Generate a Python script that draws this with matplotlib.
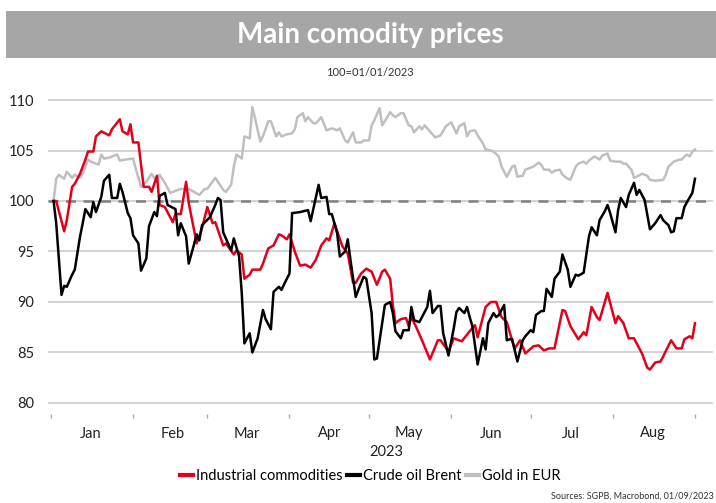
import matplotlib as mpl
mpl.use('Agg')
import matplotlib.pyplot as plt
import matplotlib.dates as mdates
from matplotlib.patches import Rectangle
import numpy as np
import pandas as pd

plt.rcParams['font.family'] = ['Lato', 'DejaVu Sans']

# days since 1 Jan 2023, index 100 = 01/01/2023
ind_days = [1, 2, 5, 6, 8, 9, 11, 13, 14, 16, 17, 19, 22, 23, 26, 27, 29, 30, 31, 33,
            35, 37, 38, 40, 41, 43, 46, 47, 49, 51, 52, 55, 56, 57, 59, 61, 62, 65, 66, 69,
            70, 72, 73, 75, 76, 79, 80, 82, 84, 86, 87, 89, 90, 92, 94, 96, 98, 100, 102, 104,
            105, 107, 108, 110, 112, 114, 115, 117, 119, 121, 123, 125, 126, 128, 129, 130, 132, 134, 135, 136,
            138, 140, 143, 146, 147, 150, 152, 155, 158, 160, 161, 164, 166, 168, 170, 172, 174, 175, 177, 179,
            182, 184, 186, 188, 190, 192, 193, 194, 196, 199, 201, 202, 204, 206, 207, 210, 211, 213, 214, 216,
            218, 220, 223, 225, 226, 228, 230, 231, 234, 236, 238, 239, 241, 242, 243]
ind_vals = [100.0, 100.0, 97.0, 98.1, 101.4, 101.7, 102.7, 104.1, 104.9, 104.9, 106.4, 106.9, 106.5, 107.1, 108.1, 106.9, 106.6, 107.6, 105.8, 105.8,
            101.4, 101.4, 100.9, 102.5, 99.6, 99.4, 97.9, 98.7, 98.7, 101.9, 99.8, 95.8, 96.5, 97.3, 99.4, 97.8, 97.9, 95.6, 95.8, 94.7,
            95.1, 94.7, 92.3, 92.7, 93.2, 93.2, 93.8, 95.3, 95.6, 96.7, 96.6, 96.2, 96.7, 95.0, 93.6, 93.7, 93.4, 94.2, 95.6, 96.3,
            96.1, 97.8, 97.0, 95.5, 94.8, 91.9, 91.9, 92.8, 93.3, 93.0, 91.7, 93.0, 93.2, 92.3, 89.7, 87.9, 88.3, 88.4, 87.6, 88.5,
            87.4, 86.2, 84.3, 86.2, 86.2, 85.1, 86.4, 86.1, 87.1, 87.7, 86.5, 89.5, 90.0, 90.0, 88.5, 88.0, 86.2, 85.4, 86.2, 84.9,
            85.6, 85.7, 85.2, 85.4, 85.4, 87.9, 89.2, 89.1, 87.6, 86.3, 87.0, 86.7, 89.5, 88.5, 88.2, 90.9, 89.9, 87.9, 88.6, 87.9,
            86.4, 86.4, 84.9, 83.5, 83.3, 84.0, 84.1, 84.6, 86.2, 85.4, 85.4, 86.3, 86.6, 86.4, 87.9]

oil_days = [1, 2, 4, 5, 6, 8, 9, 11, 12, 13, 15, 16, 17, 19, 20, 22, 23, 25, 26, 27,
            29, 30, 31, 33, 34, 36, 37, 39, 40, 41, 43, 44, 47, 48, 49, 51, 52, 54, 55, 56,
            57, 60, 62, 63, 64, 65, 66, 68, 69, 71, 72, 73, 75, 76, 78, 80, 81, 83, 84, 86,
            87, 89, 90, 91, 94, 97, 98, 101, 102, 104, 105, 106, 108, 109, 111, 112, 113, 115, 116, 118,
            119, 121, 122, 123, 125, 126, 128, 129, 130, 132, 133, 135, 136, 137, 139, 140, 142, 143, 144, 146,
            147, 148, 150, 152, 153, 154, 156, 157, 158, 159, 161, 163, 164, 165, 167, 168, 169, 171, 172, 173,
            174, 176, 178, 179, 181, 182, 183, 185, 186, 187, 189, 190, 192, 193, 195, 196, 198, 199, 201, 202,
            203, 204, 206, 207, 209, 210, 211, 213, 214, 215, 217, 218, 220, 221, 222, 224, 226, 228, 230, 231,
            233, 234, 235, 236, 238, 239, 240, 242, 243]
oil_vals = [100.0, 97.8, 90.7, 91.6, 91.5, 92.7, 93.2, 96.5, 97.8, 99.2, 98.4, 99.9, 98.9, 100.4, 102.0, 102.6, 100.3, 100.3, 101.7, 100.9,
            98.8, 98.3, 96.6, 95.8, 93.1, 94.3, 97.5, 98.9, 98.5, 100.5, 100.8, 99.6, 99.2, 96.6, 97.8, 96.5, 93.8, 95.7, 96.7, 96.1,
            97.6, 98.4, 99.6, 100.3, 100.1, 96.9, 96.3, 95.1, 96.3, 94.5, 90.9, 85.9, 86.9, 85.0, 86.4, 89.2, 88.3, 87.3, 91.0, 91.5,
            91.2, 92.3, 92.8, 98.8, 98.9, 99.1, 98.0, 101.6, 100.3, 100.4, 98.7, 98.7, 96.8, 94.5, 95.0, 96.2, 94.2, 90.5, 91.2, 92.5,
            92.3, 88.9, 84.3, 84.4, 87.9, 89.7, 90.0, 88.9, 87.1, 86.4, 87.2, 87.2, 89.5, 88.2, 88.0, 88.5, 89.5, 91.1, 88.9, 89.6,
            89.6, 86.9, 84.7, 87.4, 89.0, 89.4, 88.9, 89.5, 88.5, 87.6, 83.8, 86.4, 85.3, 87.9, 88.9, 88.5, 88.7, 89.7, 86.2, 86.3,
            86.3, 84.1, 86.2, 86.6, 87.2, 87.0, 88.7, 89.1, 89.1, 91.3, 90.5, 92.3, 93.0, 94.7, 93.2, 91.5, 92.7, 92.6, 92.9, 94.7,
            96.5, 97.4, 96.6, 98.1, 99.0, 99.6, 98.8, 96.9, 99.1, 100.3, 99.4, 100.6, 101.8, 100.6, 101.1, 100.1, 97.2, 97.8, 98.6, 98.1,
            97.6, 96.9, 97.0, 98.3, 98.3, 99.4, 99.9, 100.8, 102.2]

gold_days = [1, 2, 3, 5, 6, 8, 9, 11, 12, 14, 15, 18, 19, 20, 22, 25, 26, 28, 31, 32,
             34, 36, 38, 40, 41, 43, 45, 49, 52, 54, 56, 58, 59, 62, 65, 66, 68, 69, 70, 72,
             73, 75, 76, 77, 79, 80, 82, 83, 85, 86, 87, 89, 91, 92, 93, 95, 96, 97, 99, 100,
             102, 104, 106, 108, 109, 111, 112, 114, 115, 117, 118, 120, 121, 122, 124, 125, 126, 128, 129, 130,
             132, 133, 135, 136, 137, 139, 140, 141, 143, 145, 146, 147, 149, 151, 153, 154, 156, 157, 158, 160,
             161, 163, 164, 166, 167, 169, 170, 172, 174, 175, 176, 178, 179, 181, 182, 184, 185, 186, 188, 189,
             190, 192, 193, 195, 196, 198, 199, 201, 202, 203, 205, 206, 207, 208, 210, 211, 213, 215, 216, 217,
             219, 220, 221, 223, 225, 226, 228, 231, 232, 233, 235, 237, 238, 239, 240, 241, 242, 243]
gold_vals = [100.0, 102.2, 102.6, 102.2, 102.9, 102.3, 102.6, 102.3, 102.7, 104.1, 103.9, 103.6, 104.6, 104.2, 104.3, 104.6, 104.0, 104.1, 104.2, 103.2,
             101.4, 101.9, 102.7, 101.9, 102.6, 101.8, 100.8, 101.2, 101.2, 100.9, 100.6, 101.2, 101.2, 102.3, 101.1, 100.9, 101.6, 103.4, 104.6, 104.2,
             106.4, 106.2, 109.3, 108.2, 105.9, 106.4, 107.9, 107.9, 106.4, 106.8, 106.4, 106.6, 106.7, 107.1, 108.3, 108.7, 107.9, 108.3, 107.7, 107.7,
             108.3, 107.0, 107.2, 107.0, 107.2, 106.0, 105.8, 106.8, 105.8, 105.8, 106.0, 106.0, 107.5, 108.0, 109.2, 107.5, 107.9, 108.8, 108.5, 108.3,
             108.7, 108.7, 107.5, 107.4, 106.8, 107.4, 107.1, 107.5, 106.9, 106.3, 106.4, 106.5, 107.4, 107.8, 106.7, 107.4, 107.7, 106.4, 106.9, 107.0,
             106.5, 105.7, 105.1, 105.0, 104.9, 104.4, 103.4, 102.4, 103.4, 103.5, 102.4, 102.5, 103.1, 103.3, 103.4, 103.8, 103.6, 103.1, 103.1, 102.8,
             103.0, 103.1, 102.6, 102.2, 102.1, 103.4, 103.7, 103.9, 103.7, 104.0, 104.4, 104.3, 104.1, 104.5, 104.7, 104.0, 103.9, 103.9, 103.7, 103.7,
             103.1, 102.3, 102.4, 102.7, 102.5, 102.1, 102.0, 102.1, 102.6, 103.4, 103.9, 104.1, 104.1, 104.4, 104.6, 104.4, 104.9, 105.1]

series_names = ['Industrial commodities', 'Crude oil Brent', 'Gold in EUR']
series_colors = ['#e2001a', '#000000', '#bfbfbf']
y_ticks = [80, 85, 90, 95, 100, 105, 110]

start = pd.Timestamp('2023-01-01')
def to_dates(days):
    return start + pd.to_timedelta(days, unit='D')

fig = plt.figure(figsize=(7.16, 5.03), dpi=100)
ax = fig.add_axes([48/716, (503-414)/503, (713-48)/716, (414-95)/503])

# title banner
fig.patches.append(Rectangle((6/716, 1-58/503), 1, 47/503, transform=fig.transFigure,
                             facecolor='#a6a6a6', edgecolor='none', zorder=0))
fig.text(370/716, 1-35/503, 'Main comodity prices', ha='center', va='center',
         color='white', fontsize=20, fontweight='bold')
fig.text(370/716, 1-73/503, '100=01/01/2023', ha='center', va='center',
         color='#333333', fontsize=8)

ax.plot(to_dates(gold_days), gold_vals, color=series_colors[2], lw=1.8, label=series_names[2], zorder=3)
ax.plot(to_dates(ind_days), ind_vals, color=series_colors[0], lw=1.8, label=series_names[0], zorder=4)
ax.plot(to_dates(oil_days), oil_vals, color=series_colors[1], lw=1.8, label=series_names[1], zorder=5)
ax.axhline(100, color='#808080', lw=1.8, ls=(0, (4, 3)), zorder=2)

ax.set_ylim(78.9, 110.5)
ax.set_xlim(to_dates([-1.1])[0], to_dates([249.8])[0])
ax.set_yticks(y_ticks)
ax.yaxis.grid(True, color='#c8c8c8', lw=1.1)
ax.set_axisbelow(True)
for s in ax.spines.values():
    s.set_visible(False)
ax.tick_params(axis='y', length=0, labelsize=10.5, labelcolor='#222222', pad=10)

ax.xaxis.set_major_locator(mdates.MonthLocator())
ax.xaxis.set_major_formatter(mpl.ticker.NullFormatter())
ax.xaxis.set_minor_locator(mdates.MonthLocator(bymonthday=16))
ax.xaxis.set_minor_formatter(mdates.DateFormatter('%b'))
ax.tick_params(axis='x', which='major', length=3, width=1, color='#aaaaaa')
ax.tick_params(axis='x', which='minor', length=0, labelsize=10.5, labelcolor='#222222', pad=9)

ax.annotate('2023', xy=(pd.Timestamp('2023-05-01'), -0.118), xycoords=('data', 'axes fraction'),
            ha='left', va='center', fontsize=10.5, color='#222222')

handles = [mpl.lines.Line2D([], [], color=c, lw=3) for c in series_colors]
fig.legend(handles, series_names, loc='center', bbox_to_anchor=(370/716, 1-476/503), ncol=3,
           frameon=False, fontsize=10.5, handlelength=0.9, handletextpad=0.2, columnspacing=0.3)

fig.text(0.997, 1-496/503, 'Sources: SGPB, Macrobond, 01/09/2023', ha='right', va='center',
         fontsize=6.5, color='#333333')

fig.savefig('out.png', dpi=100)
